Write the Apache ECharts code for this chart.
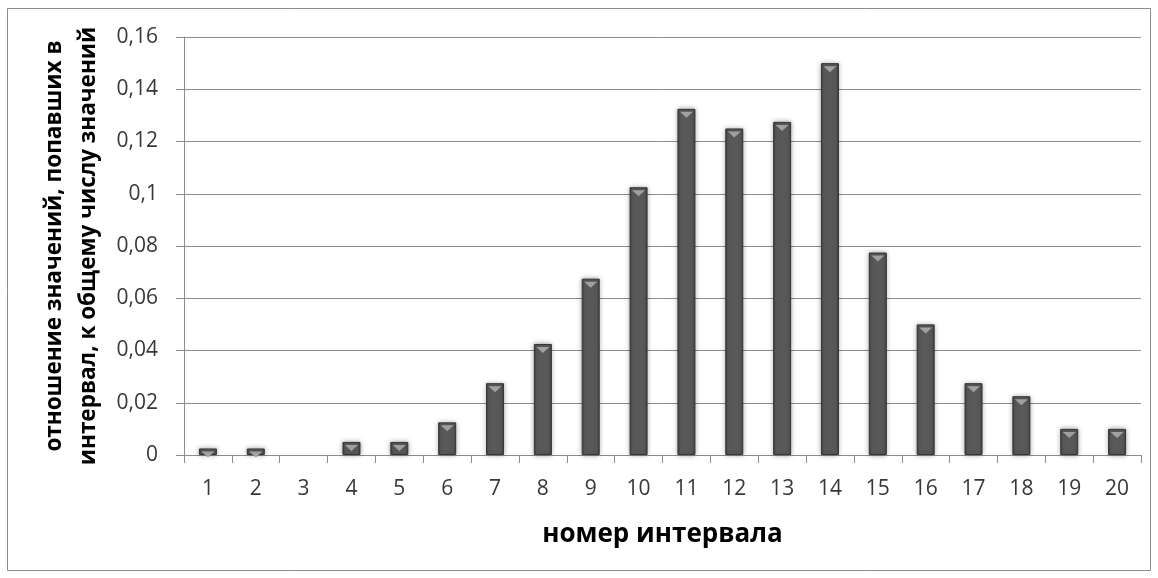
<!DOCTYPE html>
<html>
<head>
<meta charset="utf-8">
<script src="https://cdn.jsdelivr.net/npm/echarts@6/dist/echarts.min.js"></script>
<style>
html,body{margin:0;padding:0;background:#fff;}
#c{width:1158px;height:578px;}
</style>
</head>
<body>
<div id="c"></div>
<script>
const categories = ['1','2','3','4','5','6','7','8','9','10','11','12','13','14','15','16','17','18','19','20'];
const values = [0.0025,0.0025,0,0.005,0.005,0.0125,0.0275,0.0425,0.0675,0.1025,0.1325,0.125,0.1275,0.15,0.0775,0.05,0.0275,0.0225,0.01,0.01];
const yTicks = {min:0, max:0.16, interval:0.02};
const xTitle = 'номер интервала';
const yTitle = 'отношение значений, попавших в\nинтервал, к общему числу значений';

const FONT = 'Open Sans';
const chart = echarts.init(document.getElementById('c'), null, {renderer:'canvas'});
chart.setOption({
  animation:false,
  backgroundColor:'#fff',
  graphic:[{type:'rect', shape:{x:7.5,y:8.5,width:1143,height:562}, style:{fill:'none', stroke:'#8c8c8c', lineWidth:1}, silent:true}],
  grid:{left:184, right:17, top:37, bottom:123},
  xAxis:{
    type:'category', data:categories,
    axisLine:{lineStyle:{color:'#8c8c8c', width:1}},
    axisTick:{show:true, length:8, alignWithLabel:false, lineStyle:{color:'#8c8c8c'}},
    axisLabel:{color:'#383838', fontFamily:FONT, fontSize:21, margin:24},
    name:xTitle, nameLocation:'middle', nameGap:67,
    nameTextStyle:{color:'#000', fontFamily:FONT, fontWeight:'bold', fontSize:26}
  },
  yAxis:{
    type:'value', min:yTicks.min, max:yTicks.max, interval:yTicks.interval,
    axisLine:{show:true, lineStyle:{color:'#8c8c8c', width:1}},
    axisTick:{show:true, length:8, lineStyle:{color:'#8c8c8c'}},
    splitLine:{lineStyle:{color:'#8c8c8c', width:1}},
    axisLabel:{color:'#383838', fontFamily:FONT, fontSize:21, margin:26,
      formatter:v => String(+v.toFixed(2)).replace('.', ',')},
    name:yTitle, nameLocation:'middle', nameGap:78, nameRotate:90,
    nameTextStyle:{color:'#000', fontFamily:FONT, fontWeight:'bold', fontSize:22.5, lineHeight:34, align:'center'}
  },
  series:[
    {
      type:'bar', barWidth:18,
      data: values.map(v => v > 0 ? v : {value:v, itemStyle:{opacity:0}}),
      itemStyle:{
        color:{type:'linear', x:0, y:0, x2:1, y2:0, colorStops:[
          {offset:0, color:'#404040'},{offset:0.15, color:'#595959'},{offset:0.85, color:'#595959'},{offset:1, color:'#404040'}]},
        borderColor:'#363636', borderWidth:1,
        shadowBlur:5, shadowColor:'rgba(0,0,0,0.35)', shadowOffsetX:0, shadowOffsetY:0
      },
      z:2
    },
    {
      type:'pictorialBar', barGap:'-100%',
      symbol:'path://M0,0 L14,0 L7,6 Z',
      symbolPosition:'end', symbolOffset:[0,'50%'],
      data: values.map(v => ({value:v, symbolSize: v > 0 ? [13,6] : [0,0]})),
      itemStyle:{color:'#a0a0a0'},
      z:3, silent:true
    }
  ]
});
</script>
</body>
</html>
